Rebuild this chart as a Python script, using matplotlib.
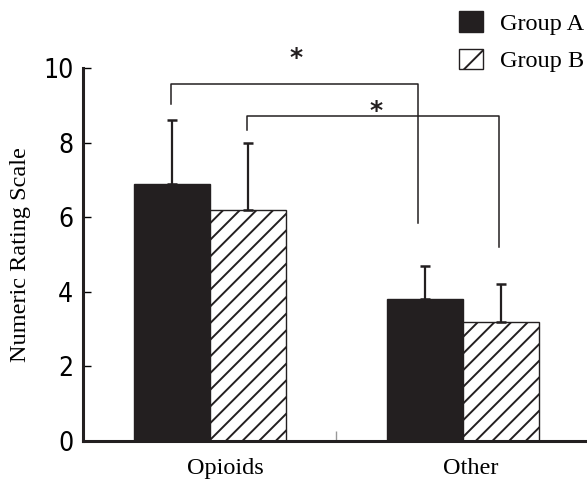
import matplotlib
matplotlib.use("Agg")
import matplotlib.pyplot as plt
from matplotlib.patches import Patch
import numpy as np

# data
categories = ["Opioids", "Other"]
group_a = [6.9, 3.8]
group_b = [6.2, 3.2]
err_a = [1.7, 0.9]
err_b = [1.8, 1.0]

# significance brackets: (x_left, y_left_bottom, y_top, x_right, y_right_bottom)
brackets = [(-0.154, 9.03, 9.57, 0.822, 5.84),
            (0.146, 8.34, 8.71, 1.142, 5.20)]
star_xy = [(0.34, 10.28), (0.656, 8.85)]
label_pos = [0.063, 1.03]

serif = "Liberation Serif"
plt.rcParams["hatch.linewidth"] = 1.4

fig = plt.figure(figsize=(5.87, 4.79), dpi=100)
ax = fig.add_axes([0.1414, 0.0793, 0.8586, 0.7787])

x = np.arange(len(categories))
w = 0.3
ax.bar(x - w / 2, group_a, w, color="#231f20", edgecolor="#231f20", linewidth=1)
ax.bar(x + w / 2, group_b, w, color="white", edgecolor="#231f20", linewidth=1, hatch="//")

ax.errorbar(x - w / 2, group_a, yerr=[np.zeros(2), err_a], fmt="none", ecolor="#231f20",
            elinewidth=1.6, capsize=3.5, capthick=1.8)
ax.errorbar(x + w / 2, group_b, yerr=[np.zeros(2), err_b], fmt="none", ecolor="#231f20",
            elinewidth=1.6, capsize=3.5, capthick=1.8)

for xl, yl, yt, xr, yr in brackets:
    ax.plot([xl, xl, xr, xr], [yl, yt, yt, yr], color="#231f20", lw=1.1, clip_on=False)
for sx, sy in star_xy:
    ax.text(sx, sy, "*", ha="center", va="center", fontsize=18, fontweight="bold",
            family="DejaVu Sans", color="#231f20")

ax.set_xlim(-0.5, 1.49)
ax.set_ylim(0, 10)
ax.set_yticks([0, 2, 4, 6, 8, 10])
ax.set_xticks(label_pos)
ax.set_xticklabels(categories, family=serif, fontsize=17.5)
ax.set_xticks([0.5], minor=True)
ax.tick_params(axis="x", which="major", length=0, pad=12)
ax.tick_params(axis="x", which="minor", direction="in", length=7, width=1, color="#999999")
ax.tick_params(axis="y", direction="in", length=6, width=1, pad=7, labelsize=19)
for lab in ax.get_yticklabels():
    lab.set_family("DejaVu Sans")
    lab.set_fontstretch("condensed")

for s in ["top", "right"]:
    ax.spines[s].set_visible(False)
for s in ["left", "bottom"]:
    ax.spines[s].set_linewidth(2.2)
    ax.spines[s].set_color("#231f20")

ax.set_ylabel("Numeric Rating Scale", family=serif, fontsize=17.5)
ax.yaxis.set_label_coords(-0.103, 0.5)

handles = [Patch(facecolor="#231f20", edgecolor="#231f20", label="Group A"),
           Patch(facecolor="white", edgecolor="#231f20", hatch="/", label="Group B")]
fig.legend(handles=handles, loc="upper right", bbox_to_anchor=(1.0068, 0.9916), frameon=False,
           prop={"family": serif, "size": 17.5}, handlelength=0.95, handleheight=0.95,
           handletextpad=0.7, labelspacing=0.55, borderpad=0.2, borderaxespad=0.1)

fig.savefig("out.png", dpi=100)
